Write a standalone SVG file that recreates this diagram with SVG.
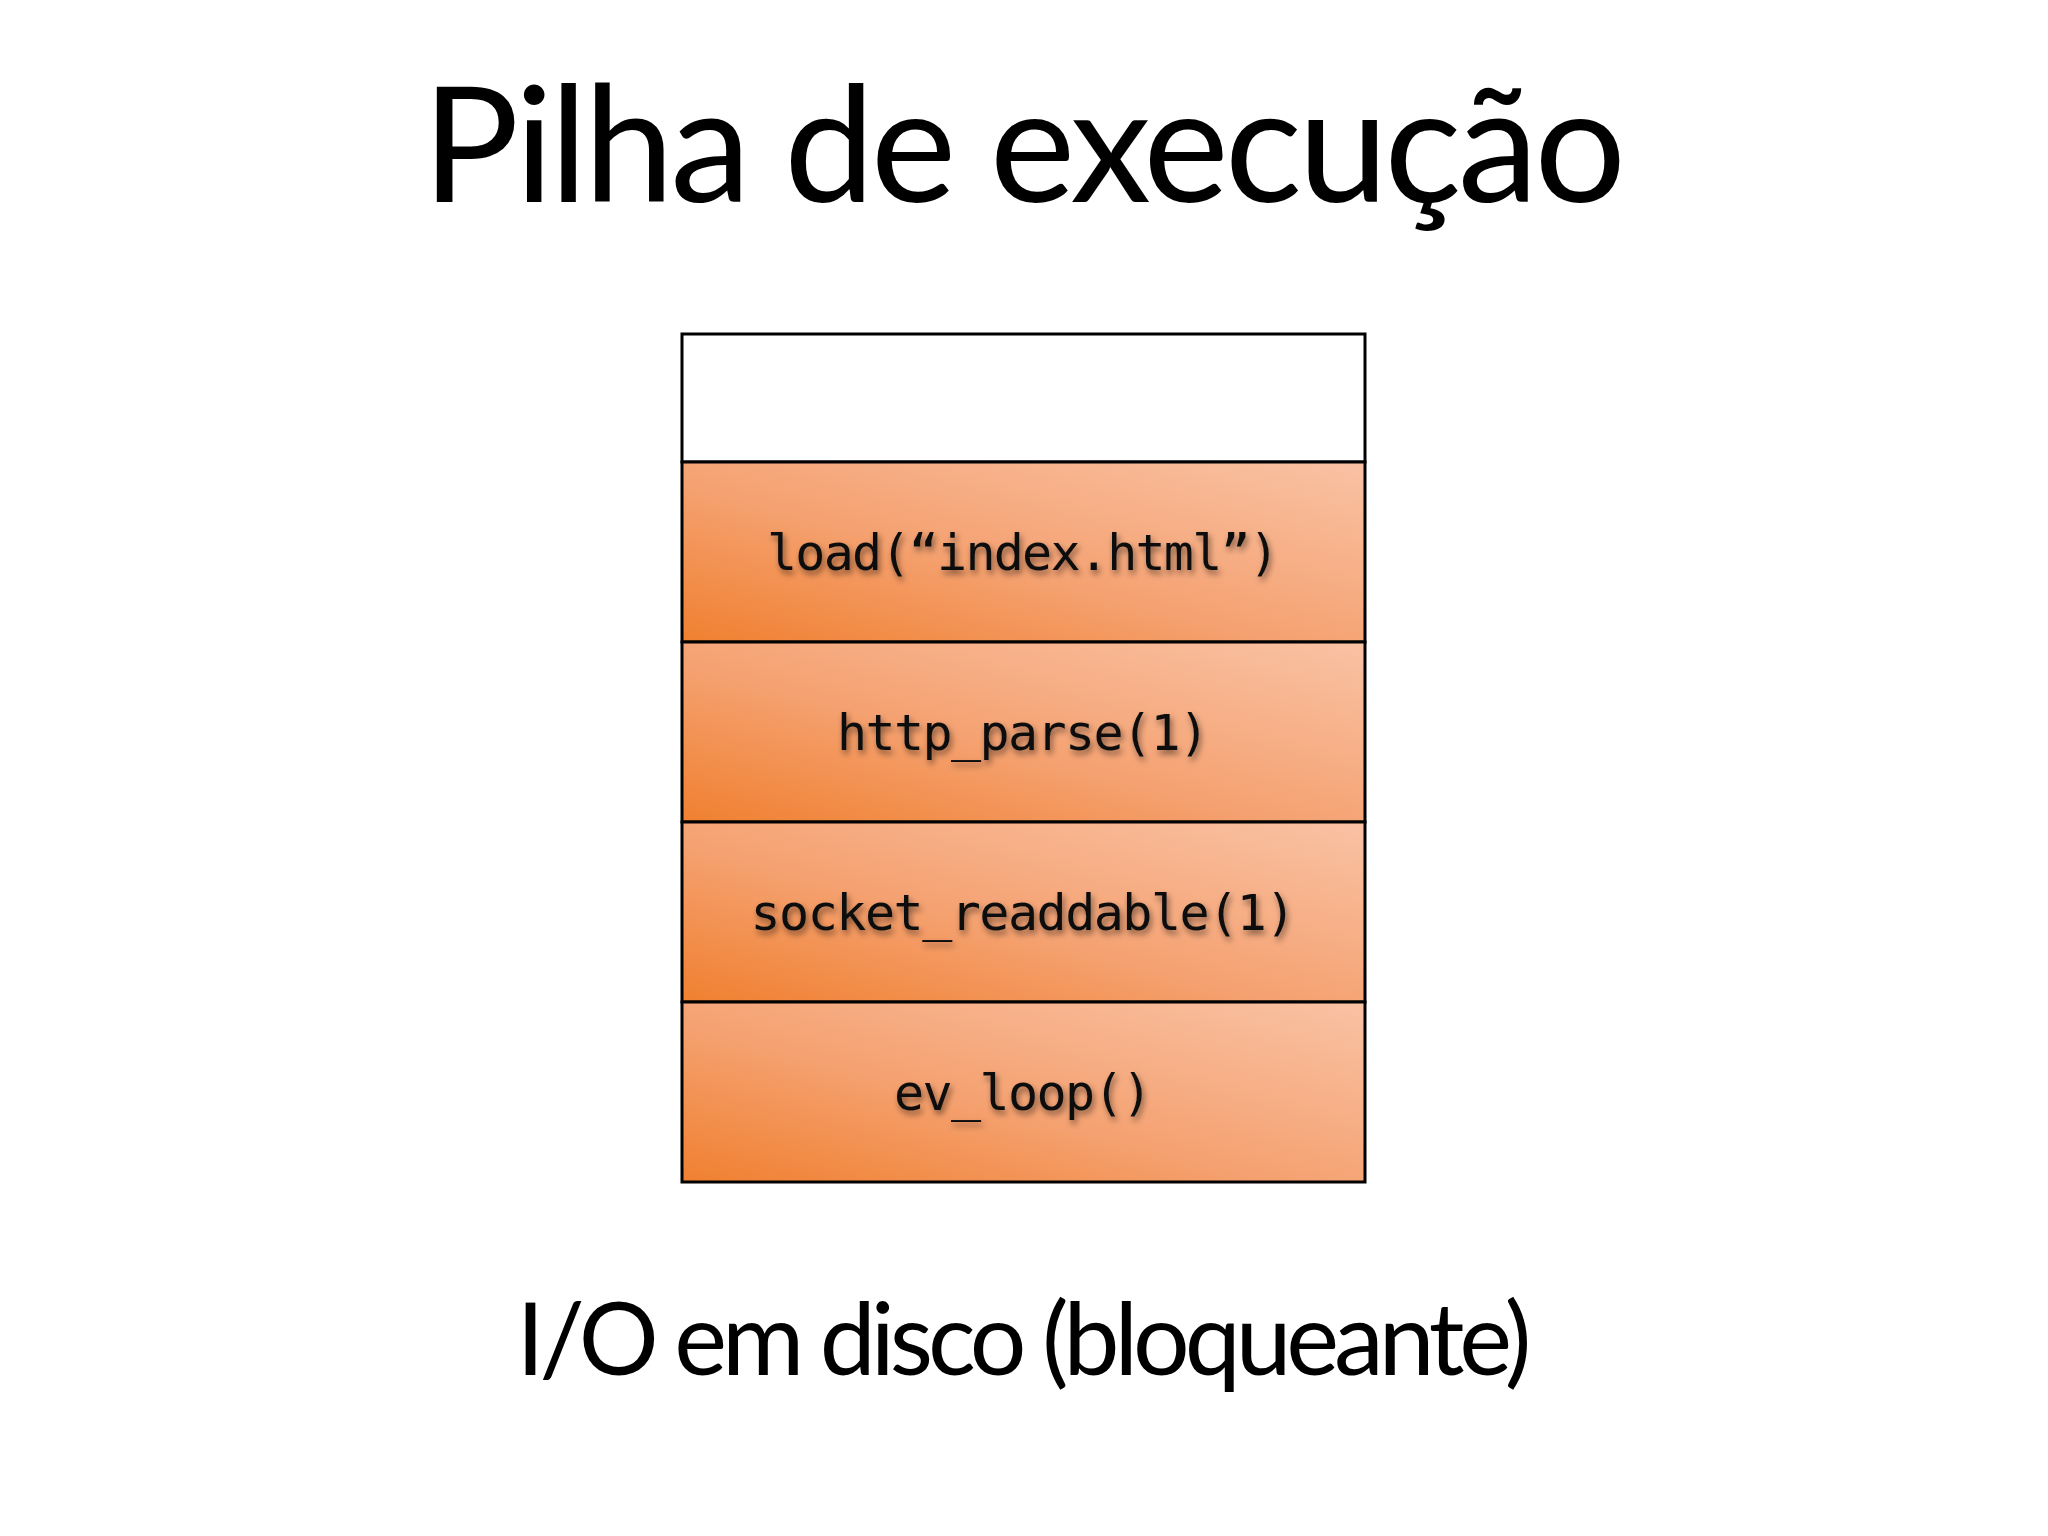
<svg xmlns="http://www.w3.org/2000/svg" width="2048" height="1536" viewBox="0 0 2048 1536">
<defs>
<linearGradient id="og" x1="0" y1="1" x2="1" y2="0">
<stop offset="0" stop-color="#f08030"/>
<stop offset="0.45" stop-color="#f5a272"/>
<stop offset="1" stop-color="#f9c2a4"/>
</linearGradient>
<filter id="sh" x="-10%" y="-30%" width="120%" height="160%">
<feGaussianBlur in="SourceAlpha" stdDeviation="3"/>
<feOffset dx="2" dy="4" result="b"/>
<feComponentTransfer><feFuncA type="linear" slope="0.5"/></feComponentTransfer>
<feMerge><feMergeNode/><feMergeNode in="SourceGraphic"/></feMerge>
</filter>
</defs>
<style>
.box{fill:url(#og);stroke:#000;stroke-width:3}
.lbl{font-family:"DejaVu Sans Mono","Liberation Mono",monospace;font-size:50px;fill:#111;text-anchor:middle;filter:url(#sh)}
.t{font-family:Lato,"Open Sans",sans-serif;fill:#000;text-anchor:middle}
</style>
<rect width="2048" height="1536" fill="#fff"/>
<text class="t" x="1024" y="202" font-size="162" textLength="1204">Pilha de execução</text>
<g id="empty"><rect x="682" y="334" width="683" height="128" fill="#fff" stroke="#000" stroke-width="3"/></g>
<g id="load"><rect class="box" x="682" y="462" width="683" height="180"/><text class="lbl" x="1023" y="570" textLength="512">load(“index.html”)</text></g>
<g id="http"><rect class="box" x="682" y="642" width="683" height="180"/><text class="lbl" x="1023" y="750" textLength="372">http_parse(1)</text></g>
<g id="socket"><rect class="box" x="682" y="822" width="683" height="180"/><text class="lbl" x="1023" y="930" textLength="545">socket_readdable(1)</text></g>
<g id="evloop"><rect class="box" x="682" y="1002" width="683" height="180"/><text class="lbl" x="1023" y="1110" textLength="258">ev_loop()</text></g>
<g id="connectors"/>
<text class="t" x="1024" y="1375" font-size="100" textLength="1015">I/O em disco (bloqueante)</text>
</svg>
